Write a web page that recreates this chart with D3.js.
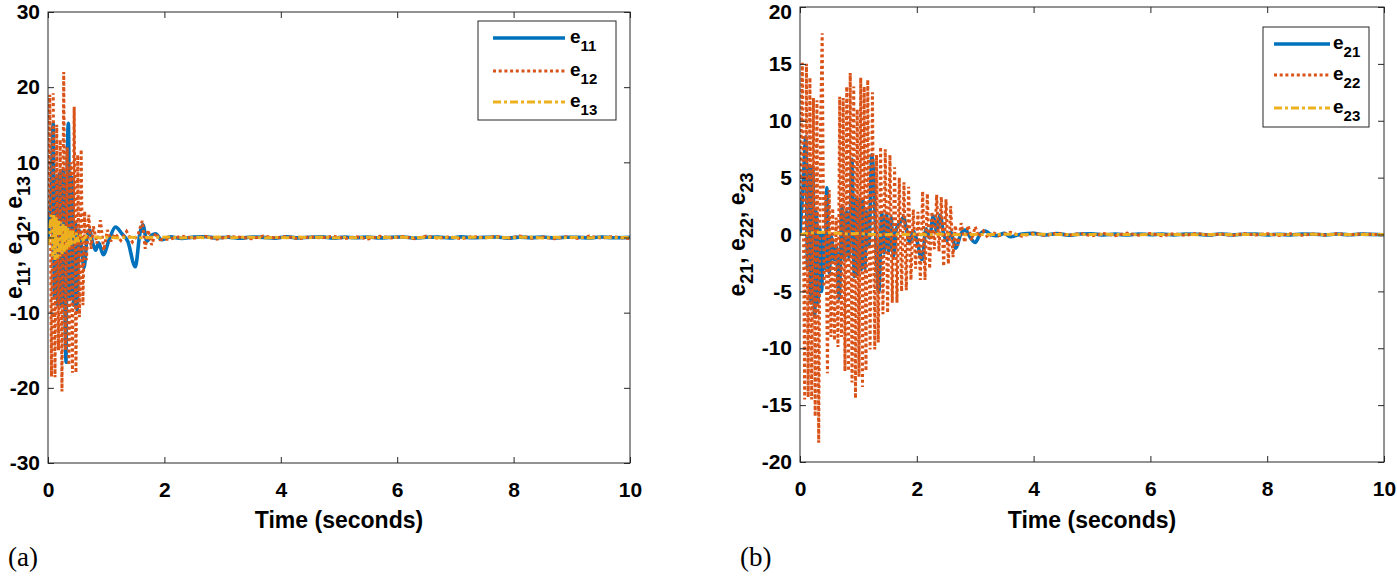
<!DOCTYPE html>
<html><head><meta charset="utf-8">
<script src="https://cdn.jsdelivr.net/npm/d3@7"></script>
<style>body{margin:0;background:#fff}svg{display:block}</style>
</head><body>
<svg id="c" width="1397" height="577"></svg>
<script>
// ---------- tick labels ----------
const xTicks = [0, 2, 4, 6, 8, 10];
const yTicksA = [-30, -20, -10, 0, 10, 20, 30];
const yTicksB = [-20, -15, -10, -5, 0, 5, 10, 15, 20];

// ---------- panel (a) data ----------
const e11T = [0,0.05,0.09,0.11,0.14,0.17,0.2,0.23,0.26,0.29,0.31,0.33,0.35,0.38,0.41,0.44,0.47,0.5,0.53,0.57,0.62,0.67,0.71,0.77,0.82,0.87,0.95,1.05,1.16,1.27,1.37,1.5,1.58,1.63,1.7,1.78,1.85,1.95];
const e11V = [0,5,15.2,-8,8,-9,8.5,-9,9,-8.5,-16.6,9,15.2,-8,8,-9,2,-9.7,1.0,-1,-4,0,1.0,-0.8,-1.7,-0.7,-2.3,-0.3,1.4,0.5,-0.5,-3.9,0.6,1.7,-0.5,0.3,0.5,-0.3];
const e12T = [0,0.03,0.06,0.09,0.12,0.15,0.18,0.21,0.24,0.27,0.3,0.33,0.36,0.39,0.42,0.45,0.48,0.51,0.54,0.57,0.6,0.63,0.66,0.7,0.74,0.78,0.84,0.9,0.96,1.02,1.08,1.15,1.25,1.35,1.45,1.55,1.62,1.67,1.72,1.78,1.85,1.92];
const e12V = [3,19,-18.5,19.2,-18.6,15,-15,13,-20.5,22,-15,12,-17,10,-18,17.4,-18,11,-10.6,11.7,-9,3.5,-3,3,-1.5,1.5,-0.8,2.3,-1.7,1,-0.5,0.5,-0.4,0.8,-0.6,0.5,2.2,-1.5,1,-1,0.6,-0.3];
const e13T = [0,0.03,0.06,0.08,0.1,0.12,0.14,0.16,0.18,0.2,0.22,0.24,0.26,0.28,0.3,0.32,0.34,0.36,0.38,0.4,0.43,0.46,0.49,0.52,0.56,0.6,0.66,0.72,0.8,0.9,1.0,1.2,1.4,1.6,1.8];
const e13V = [-1,1.5,3,-2.5,3,-3,2.7,-2.8,2.4,-2.5,2.1,-2.2,1.8,-1.9,1.6,-1.6,1.3,-1.3,1.1,-1.1,0.9,-0.8,0.6,-0.6,0.4,-0.3,0.2,-0.2,0.1,-0.05,0.05,-0.05,0.04,-0.03,0.03];
const tailAT = [2.1,2.3,2.5,2.7,2.9,3.1,3.3,3.5,3.7,3.9,4.1,4.3,4.5,4.7,4.9,5.1,5.3,5.5,5.7,5.9,6.1,6.3,6.5,6.7,6.9,7.1,7.3,7.5,7.7,7.9,8.1,8.3,8.5,8.7,8.9,9.1,9.3,9.5,9.7,10.0];
const e11Tail = [0.08,-0.12,0.05,0.1,-0.06,0.04,-0.1,0.07,0.02,-0.08,0.09,-0.05,0.03,0.08,-0.09,0.05,-0.03,0.07,-0.07,0.04,0.06,-0.08,0.03,0.05,-0.06,0.08,-0.04,0.02,0.07,-0.09,0.05,-0.02,0.06,-0.07,0.04,0.03,-0.06,0.07,-0.04,0.02];
const e12Tail = [-0.2,0.18,-0.1,0.15,-0.22,0.12,0.05,-0.16,0.2,-0.08,0.14,-0.18,0.1,-0.05,0.17,-0.14,0.09,-0.2,0.16,-0.06,0.12,-0.15,0.19,-0.1,0.08,-0.17,0.13,-0.04,0.15,-0.12,0.2,-0.09,0.06,-0.16,0.11,-0.13,0.18,-0.07,0.1,-0.14];
const e13Tail = [0.05,-0.06,0.04,-0.03,0.06,-0.05,0.02,0.04,-0.06,0.03,-0.04,0.05,-0.02,0.06,-0.05,0.03,-0.04,0.05,-0.03,0.02,0.04,-0.05,0.06,-0.02,0.03,-0.06,0.05,-0.03,0.04,-0.04,0.02,0.05,-0.06,0.03,-0.02,0.04,-0.05,0.06,-0.03,0.02];

// ---------- panel (b) data ----------
const e21T = [0,0.05,0.1,0.13,0.16,0.19,0.22,0.25,0.28,0.31,0.34,0.37,0.4,0.43,0.46,0.5,0.54,0.58,0.62,0.67,0.72,0.76,0.8,0.84,0.89,0.93,0.96,0.99,1.02,1.05,1.08,1.11,1.14,1.18,1.23,1.35,1.4,1.44,1.48,1.52,1.56,1.6,1.65,1.71,1.77,1.83,1.88,1.94,2.0,2.09,2.16,2.22,2.28,2.34,2.4,2.46,2.52,2.58,2.67,2.75,2.83,2.92,3.0,3.08,3.17,3.27,3.37,3.5];
const e21V = [0,4,8.6,-3,6,-6,6,-7.2,2,-6,0.5,-5,0,-3,4.1,-3.4,-0.2,-2.2,-1,-5.6,2.4,-2.2,2,-2,6.6,-3.7,3.1,-3.5,3.1,-3.1,3,-3,2,-1,7,-5.1,1.9,-1.6,1.8,-1.5,1.5,-1.9,0.5,1,1.5,0.3,-0.7,0.3,-0.5,-2.2,0.5,-0.3,1.6,0.3,1.7,0,-0.5,0.2,-1.2,0,0.4,-0.3,-0.7,0,0.3,0,-0.1,0.1];
const e22T = [0,0.04,0.08,0.11,0.14,0.17,0.2,0.23,0.26,0.29,0.32,0.35,0.38,0.41,0.44,0.47,0.5,0.53,0.56,0.59,0.62,0.65,0.68,0.71,0.74,0.77,0.8,0.83,0.86,0.89,0.92,0.95,0.98,1.01,1.04,1.07,1.1,1.13,1.16,1.2,1.24,1.28,1.31,1.34,1.38,1.42,1.46,1.5,1.54,1.58,1.62,1.66,1.7,1.74,1.78,1.82,1.86,1.9,1.94,1.98,2.02,2.06,2.1,2.14,2.18,2.22,2.26,2.3,2.34,2.38,2.42,2.46,2.5,2.54,2.58,2.62,2.66,2.7,2.76,2.82,2.88,2.94,3.0,3.06,3.14,3.22,3.3,3.4,3.5];
const e22V = [3,15.1,-14.5,15,-14.3,13.8,-14.5,12,-16,11.8,-18.3,9,17.7,-4.6,3.5,-12.2,3.9,-9,2.3,-9.3,1.5,-9.9,12.1,-9,12,-12,13,-12,14.2,-13,13,-14.4,11,-12.5,13.8,-13.4,13,-12,13.6,-10.1,12.5,-10.1,7,-9.5,7.7,-7,7.5,-6.9,7,-6,5.9,-6,5,-5,4.6,-4.9,4.2,-4,2.2,-3,2,-4,3.8,-4,3.6,-3,2,-1.3,3.5,-1.5,3.3,-2.8,3.1,-2.6,2.5,-2,0.8,-1,1,-0.7,0.8,-0.5,0.7,-0.2,0.3,-0.3,0.2,-0.1,0.05];
const e23T = [0,0.2,0.4,0.6,0.8,1.0,1.2,1.4,1.6,1.8,2.0,2.2,2.4,2.6,2.8,3.0,3.2,3.4];
const e23V = [0,0.15,0.2,0.12,0.05,0.08,0.02,-0.04,0.03,0,0.02,-0.02,0.03,0,-0.02,0.01,0,0.01];
const tailBT = [3.6,3.8,4.0,4.2,4.4,4.6,4.8,5.0,5.2,5.4,5.6,5.8,6.0,6.2,6.4,6.6,6.8,7.0,7.2,7.4,7.6,7.8,8.0,8.2,8.4,8.6,8.8,9.0,9.2,9.4,9.6,10.0];
const e21Tail = [-0.2,0.05,0.1,-0.05,0.08,-0.06,0.04,0.06,-0.04,0.03,-0.05,0.05,-0.02,0.04,-0.04,0.03,0.02,-0.04,0.05,-0.03,0.02,0.04,-0.03,0.02,-0.04,0.03,0.02,-0.03,0.04,-0.02,0.03,-0.02];
const e22Tail = [0.2,-0.15,0.12,-0.1,0.14,-0.08,0.1,-0.12,0.08,-0.1,0.12,-0.06,0.09,-0.11,0.07,-0.08,0.1,-0.07,0.06,-0.09,0.08,-0.05,0.07,-0.08,0.06,-0.07,0.05,-0.06,0.08,-0.05,0.06,-0.04];
const e23Tail = [0.02,-0.02,0.01,0.02,-0.01,0.01,-0.02,0.01,0.02,-0.01,0.01,-0.02,0.02,0,-0.01,0.02,-0.02,0.01,0,0.01,-0.01,0.02,-0.01,0.01,-0.02,0.01,0.02,-0.01,0,0.01,-0.01,0];

// ---------- styles ----------
const BLUE = '#0072BD', ORANGE = '#D95319', YELLOW = '#EDB120', AX = '#262626';
const sty = {
  solid: {color: BLUE, w: 3.6, dash: null, curve: d3.curveMonotoneX},
  dot:   {color: ORANGE, w: 3, dash: '3,2.7', curve: d3.curveLinear},
  dashdot: {color: YELLOW, w: 3, dash: '8,3,3,3', curve: d3.curveLinear}
};

const svg = d3.select('#c');
const defs = svg.append('defs');
const FONT = '"Liberation Sans", Arial, Helvetica, sans-serif';

function drawPanel(p) {
  const x = d3.scaleLinear().domain([0, 10]).range([p.x0, p.x1]);
  const y = d3.scaleLinear().domain(p.ydom).range([p.y1, p.y0]);
  const g = svg.append('g');
  defs.append('clipPath').attr('id', 'clip' + p.id).append('rect')
    .attr('x', p.x0).attr('y', p.y0).attr('width', p.x1 - p.x0).attr('height', p.y1 - p.y0);
  const lg = g.append('g').attr('clip-path', `url(#clip${p.id})`);
  p.series.forEach(s => {
    const st = sty[s.style];
    const data = s.T.map((t, i) => [t, s.V[i]]);
    const path = lg.append('path').datum(data)
      .attr('d', d3.line().x(d => x(d[0])).y(d => y(d[1])).curve(st.curve))
      .attr('fill', 'none').attr('stroke', st.color).attr('stroke-width', st.w)
      .attr('stroke-linejoin', 'miter').attr('stroke-miterlimit', 2);
    if (st.dash) path.attr('stroke-dasharray', st.dash);
  });
  const fmt = d => String(d);
  const ax = [
    {a: d3.axisBottom(x).tickValues(xTicks).tickFormat(fmt).tickPadding(19), t: `translate(0,${p.y1})`},
    {a: d3.axisTop(x).tickValues(xTicks).tickFormat(''), t: `translate(0,${p.y0})`},
    {a: d3.axisLeft(y).tickValues(p.yTicks).tickFormat(fmt).tickPadding(8), t: `translate(${p.x0},0)`},
    {a: d3.axisRight(y).tickValues(p.yTicks).tickFormat(''), t: `translate(${p.x1},0)`}
  ];
  ax.forEach(o => {
    const ag = g.append('g').attr('transform', o.t)
      .call(o.a.tickSizeInner(-6).tickSizeOuter(0));
    ag.select('.domain').remove();
    ag.selectAll('line').attr('stroke', AX).attr('stroke-width', 1);
    ag.selectAll('text').attr('fill', '#000').style('font-family', FONT)
      .style('font-weight', 'bold').style('font-size', '21px')
      .each(function () {
        // keep the top label inside the picture
        const bb = this.getBBox(), ctm = this.getCTM();
        const top = bb.y + ctm.f;
        if (top < 0) d3.select(this).attr('y', (+d3.select(this).attr('y') || 0) - top);
      });
  });
  g.append('rect').attr('x', p.x0).attr('y', p.y0).attr('width', p.x1 - p.x0)
    .attr('height', p.y1 - p.y0).attr('fill', 'none').attr('stroke', AX).attr('stroke-width', 1);
  g.append('text').attr('x', (p.x0 + p.x1) / 2).attr('y', 528).attr('text-anchor', 'middle')
    .style('font-family', FONT).style('font-weight', 'bold').style('font-size', '23px')
    .text('Time (seconds)');
  const yl = g.append('text').attr('transform', `translate(${p.ylx},${(p.y0 + p.y1) / 2}) rotate(-90)`)
    .attr('text-anchor', 'middle').style('font-family', FONT).style('font-weight', 'bold')
    .style('font-size', '23px');
  p.names.forEach((n, i) => {
    yl.append('tspan').text('e');
    yl.append('tspan').attr('dy', 8).style('font-size', '18px').text(n);
    yl.append('tspan').attr('dy', -8).text(i < p.names.length - 1 ? ', ' : '');
  });
  g.append('text').attr('x', p.tagx).attr('y', 566)
    .style('font-family', '"Liberation Serif", "Times New Roman", serif').style('font-size', '27px')
    .text(p.tag);
  const L = p.leg;
  const leg = g.append('g');
  leg.append('rect').attr('x', L.x0).attr('y', L.y0).attr('width', L.x1 - L.x0).attr('height', L.y1 - L.y0)
    .attr('fill', '#fff').attr('stroke', AX).attr('stroke-width', 1);
  p.series.forEach((s, i) => {
    const st = sty[s.style];
    const ly = L.rows[i];
    const ln = leg.append('line').attr('x1', L.lx0).attr('x2', L.lx1).attr('y1', ly).attr('y2', ly)
      .attr('stroke', st.color).attr('stroke-width', st.w);
    if (st.dash) ln.attr('stroke-dasharray', st.dash);
    const tx = leg.append('text').attr('x', L.tx).attr('y', ly + 5)
      .style('font-family', FONT).style('font-weight', 'bold').style('font-size', '19px');
    tx.append('tspan').text('e');
    tx.append('tspan').attr('dy', 8).style('font-size', '15px').text(p.names[i]);
  });
}

drawPanel({
  id: 'A', x0: 48, x1: 630, y0: 12, y1: 463, ydom: [-30, 30], yTicks: yTicksA,
  ylx: 22, tag: '(a)', tagx: 8, names: ['11', '12', '13'],
  series: [
    {T: e11T.concat(tailAT), V: e11V.concat(e11Tail), style: 'solid'},
    {T: e12T.concat(tailAT), V: e12V.concat(e12Tail), style: 'dot'},
    {T: e13T.concat(tailAT), V: e13V.concat(e13Tail), style: 'dashdot'}
  ],
  leg: {x0: 478, x1: 616, y0: 21, y1: 120, lx0: 493, lx1: 565, tx: 570, rows: [38, 71, 102]}
});
drawPanel({
  id: 'B', x0: 800, x1: 1384, y0: 7, y1: 462, ydom: [-20, 20], yTicks: yTicksB,
  ylx: 745, tag: '(b)', tagx: 740, names: ['21', '22', '23'],
  series: [
    {T: e21T.concat(tailBT), V: e21V.concat(e21Tail), style: 'solid'},
    {T: e22T.concat(tailBT), V: e22V.concat(e22Tail), style: 'dot'},
    {T: e23T.concat(tailBT), V: e23V.concat(e23Tail), style: 'dashdot'}
  ],
  leg: {x0: 1263, x1: 1369, y0: 27, y1: 127, lx0: 1274, lx1: 1330, tx: 1333, rows: [44, 75, 108]}
});
</script>
</body></html>
